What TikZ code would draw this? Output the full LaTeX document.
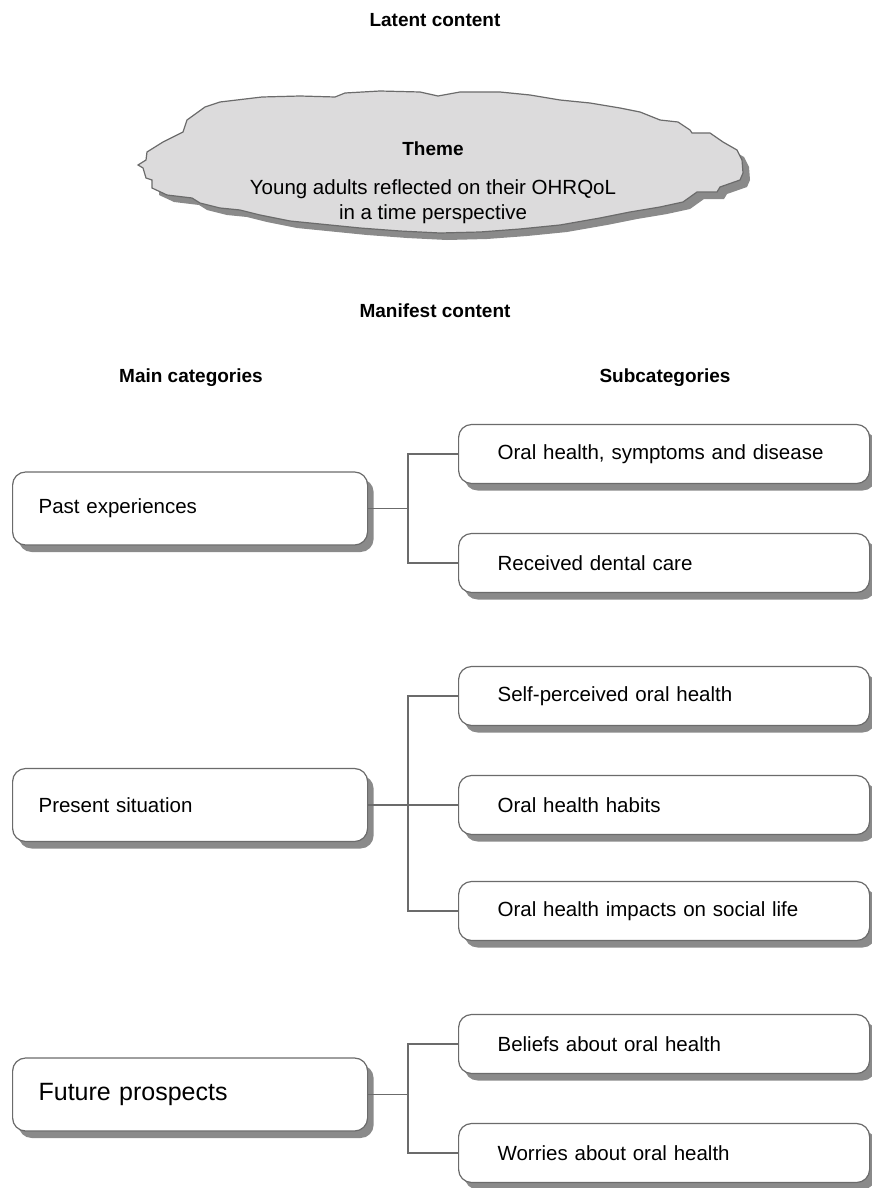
\documentclass[tikz,border=0pt]{standalone}
\usepackage{fontspec}
\setmainfont{Liberation Sans}
\usetikzlibrary{shadows}
\definecolor{linegray}{HTML}{6B6B6B}
\definecolor{shadowgray}{HTML}{8A8A8A}
\definecolor{cloudgray}{HTML}{DCDBDC}
\tikzset{
  boxshadow/.style={drop shadow={shadow xshift=6pt, shadow yshift=-7pt, fill=shadowgray, opacity=1}},
  mainbox/.style={draw=linegray, line width=1.2pt, fill=white, rounded corners=13pt,
    minimum height=73pt, text width=303pt, inner xsep=26pt, align=left,
    font=\fontsize{20.5}{24}\selectfont, boxshadow, anchor=west},
  subbox/.style={draw=linegray, line width=1.2pt, fill=white, rounded corners=13pt,
    minimum height=59pt, text width=333pt, inner xsep=39pt, align=left,
    font=\fontsize{20.5}{24}\selectfont, boxshadow, anchor=west},
  hdr/.style={font=\fontsize{19}{23}\selectfont\bfseries},
  conn/.style={draw=linegray, line width=1.4pt},
}
\begin{document}
\begin{tikzpicture}[x=1pt,y=-1pt]
\useasboundingbox (0,0) rectangle (871,1188);

% headings
\node[hdr] (latent) at (435,20) {Latent content};
\node[hdr] (manifest) at (435,311) {Manifest content};
\node[hdr] (maincat) at (191,378) {Main categories};
\node[hdr] (subcat) at (665,378) {Subcategories};

% cloud
\path[draw=linegray, line width=1.2pt, fill=cloudgray,
  drop shadow={shadow xshift=7pt, shadow yshift=-7pt, fill=shadowgray, opacity=1}]
  (138,165) -- (146,160) -- (147,152) -- (163,142) -- (183,132) -- (187,120)
  -- (205,107) -- (220,102) -- (262,97) -- (300,96) -- (335,97) -- (345,93)
  -- (380,91) -- (420,92) -- (438,96) -- (460,92) -- (500,92) -- (530,95)
  -- (560,100) -- (590,103) -- (620,108) -- (640,112) -- (660,120) -- (678,122)
  -- (690,130) -- (692,133) -- (710,133) -- (723,142) -- (737,150) -- (742,160)
  -- (743,173) -- (740,180) -- (720,187) -- (717,192) -- (697,192) -- (683,202)
  -- (660,207) -- (630,212) -- (600,218) -- (560,225) -- (520,229) -- (480,232)
  -- (440,233) -- (400,231) -- (360,228) -- (320,224) -- (290,221) -- (260,215)
  -- (240,210) -- (220,208) -- (200,203) -- (192,198) -- (167,195) -- (152,188)
  -- (152,180) -- (146,178) -- (143,168) -- cycle;
\node[font=\fontsize{19}{23}\selectfont\bfseries] (theme) at (433,149) {Theme};
\node[font=\fontsize{20.5}{25}\selectfont, align=center] (themetext) at (433,202)
  {Young adults reflected on their OHRQoL\\in a time perspective};

% past
\node[mainbox] (pe) at (12,508.5) {Past experiences};
\node[subbox] (s1) at (458,454) {Oral health, symptoms and disease};
\node[subbox] (s2) at (458,563) {Received dental care};
\coordinate (j1) at (408,508.5);
\draw[conn] (pe.east) -- (j1);
\draw[conn] (s1.west) -| (j1) |- (s2.west);

% present
\node[mainbox] (ps) at (12,805) {Present situation};
\node[subbox] (s3) at (458,696) {Self-perceived oral health};
\node[subbox] (s4) at (458,805) {Oral health habits};
\node[subbox] (s5) at (458,911) {Oral health impacts on social life};
\coordinate (j2) at (408,805);
\draw[conn] (ps.east) -- (s4.west);
\draw[conn] (s3.west) -| (j2) |- (s5.west);

% future
\node[mainbox, font=\fontsize{25}{29}\selectfont] (fp) at (12,1094.5) {Future prospects};
\node[subbox] (s6) at (458,1044) {Beliefs about oral health};
\node[subbox] (s7) at (458,1153) {Worries about oral health};
\coordinate (j3) at (408,1094.5);
\draw[conn] (fp.east) -- (j3);
\draw[conn] (s6.west) -| (j3) |- (s7.west);
\end{tikzpicture}
\end{document}
